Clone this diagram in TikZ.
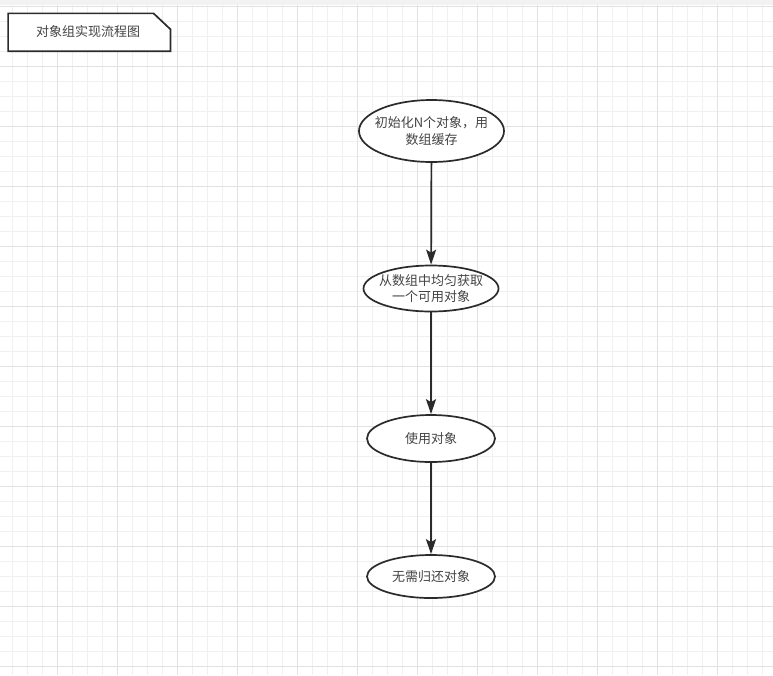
\documentclass[tikz,border=0pt]{standalone}
\usepackage{fontspec}
\newfontfamily\cjk{Noto Sans CJK SC}
\usetikzlibrary{shapes.geometric,arrows.meta}
\definecolor{gridminor}{HTML}{F0F0F0}
\definecolor{gridmajor}{HTML}{E2E2E2}
\definecolor{ink}{HTML}{2B2B2B}
\definecolor{txt}{HTML}{444444}
\tikzset{
  oval/.style={ellipse, draw=ink, line width=1.7pt, fill=white, inner sep=-14pt,
    align=center, text=txt, font=\cjk\fontsize{13}{16.5}\selectfont},
  flow/.style={draw=ink, line width=1.7pt, -{Stealth[length=15pt,width=10pt,inset=3pt]}},
  notebox/.style={draw=ink, line width=1.7pt, fill=white, line join=miter},
  notetext/.style={text=txt, font=\cjk\fontsize{13}{16}\selectfont, inner sep=0pt,
    minimum width=162pt, minimum height=37.5pt},
}
\begin{document}
\begin{tikzpicture}[x=1pt,y=-1pt]
\useasboundingbox (0,0) rectangle (773,675);
\fill[white] (0,0) rectangle (773,675);
% top band
\fill[gray!10] (0,0) rectangle (773,5);
% grid
\foreach \x in {12,27,...,772} \draw[gridminor, line width=1pt] (\x,5) -- (\x,675);
\foreach \y in {21,36,...,675} \draw[gridminor, line width=1pt] (0,\y) -- (773,\y);
\foreach \x in {57,117,...,772} \draw[gridmajor, line width=1pt] (\x,5) -- (\x,675);
\foreach \y in {6,66,...,675} \draw[gridmajor, line width=1pt] (0,\y) -- (773,\y);

% note
\node[notetext] (title) at (89.3,32.3) {};
\draw[notebox] (title.south west) -- (title.north west) -- ([xshift=-17pt]title.north east)
  -- ([yshift=-16pt]title.north east) -- (title.south east) -- cycle;
\node[text=txt, font=\cjk\fontsize{13}{16}\selectfont, inner sep=0pt] (titletext) at (88,32) {对象组实现流程图};

% flow
\node[oval, minimum width=145pt, minimum height=62pt] (n1) at (431.5,131) {初始化N个对象，用\\数组缓存};
\node[oval, minimum width=135pt, minimum height=46pt] (n2) at (431,288.5) {从数组中均匀获取\\一个可用对象};
\node[oval, minimum width=128pt, minimum height=47pt] (n3) at (431,438.5) {使用对象};
\node[oval, minimum width=128pt, minimum height=43pt] (n4) at (431,576.5) {无需归还对象};

\draw[flow] (n1) -- (n2);
\draw[flow] (n2) -- (n3);
\draw[flow] (n3) -- (n4);
\end{tikzpicture}
\end{document}
